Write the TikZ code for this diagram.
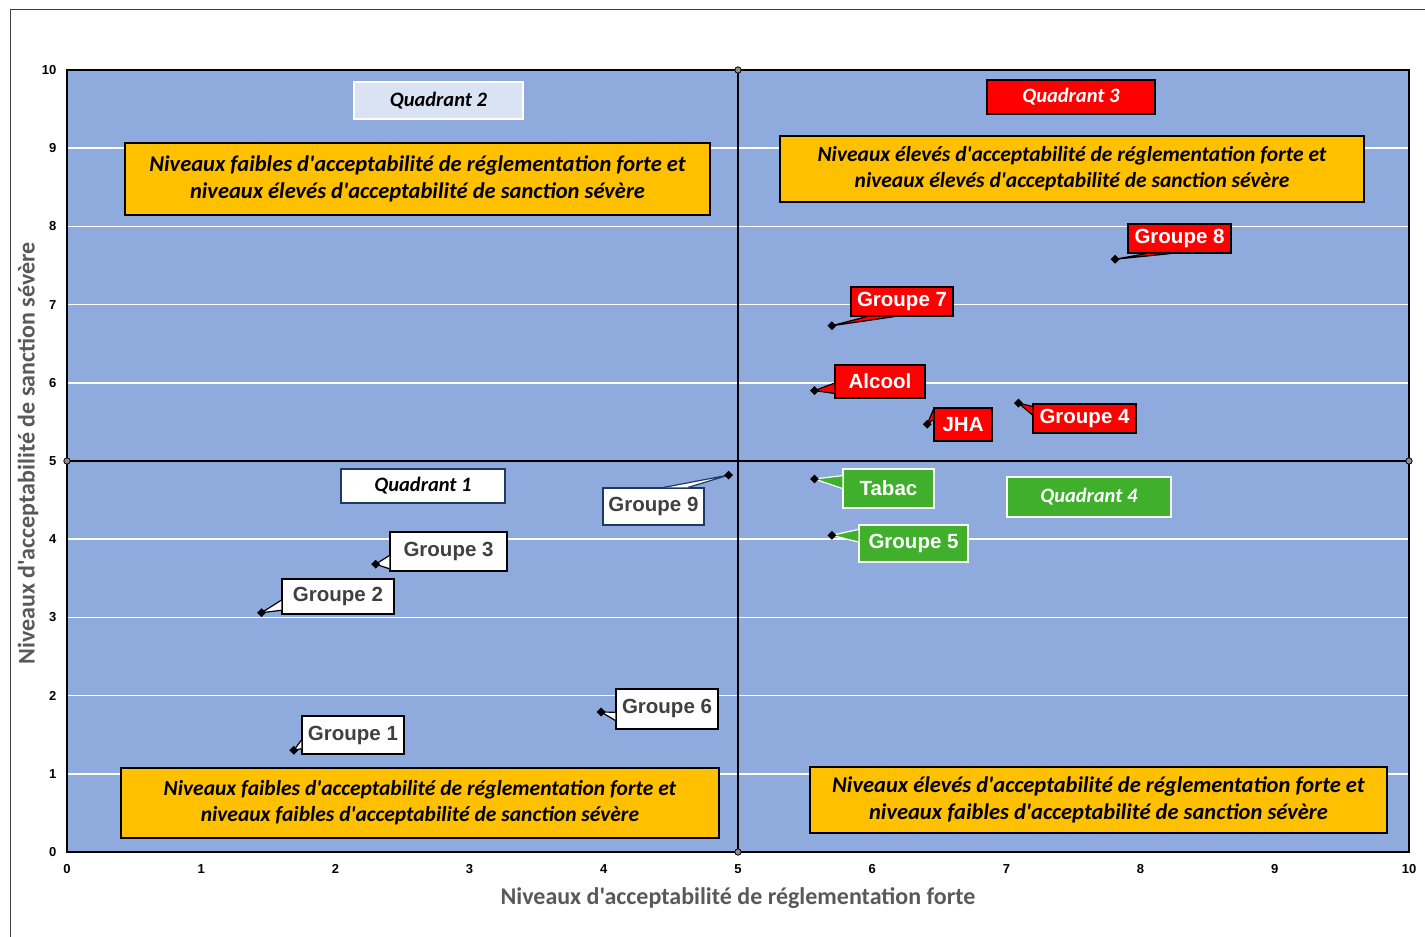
\documentclass[tikz,border=0pt]{standalone}
\usepackage{fontspec}
\setmainfont{Carlito}[Ligatures=TeXOff]
\newfontfamily\arialf{Liberation Sans}
\usepackage{tikz}
\usetikzlibrary{shapes.geometric,calc}

\definecolor{plotbg}{HTML}{8FAADC}
\definecolor{quadyellow}{HTML}{FFC000}
\definecolor{markred}{HTML}{FF0000}
\definecolor{markgreen}{HTML}{3FAF2C}
\definecolor{palebox}{HTML}{DAE3F3}
\definecolor{navy}{HTML}{1F3864}
\definecolor{grptext}{HTML}{404040}
\definecolor{titlegray}{HTML}{595959}

\tikzset{
  sz/.style 2 args={minimum width=#1pt, minimum height=#2pt},
  yellowbox/.style={draw=black, fill=quadyellow, line width=1.2pt, align=center, inner sep=0pt,
    font=\fontsize{22.5}{27}\selectfont\bfseries\itshape},
  quadbox/.style={line width=1.2pt, inner sep=0pt, font=\fontsize{20.5}{24}\selectfont\bfseries\itshape},
  grpbox/.style={draw=black, fill=white, text=grptext, line width=1.2pt, inner sep=0pt,
    font=\arialf\fontsize{20.5}{24}\selectfont\bfseries},
  redbox/.style={grpbox, fill=markred, text=white},
  greenbox/.style={grpbox, fill=markgreen, draw=white, text=white},
  mk/.style={diamond, fill=black, inner sep=0pt, minimum size=9pt},
  tick/.style={font=\arialf\fontsize{13}{15}\selectfont\bfseries, inner sep=1pt},
  axtitle/.style={text=titlegray, font=\fontsize{24}{28}\selectfont\bfseries},
}

% wedge of a callout: fill, border, edge start, edge end, f1, f2, point
\newcommand{\callout}[7]{%
  \fill[#1] ($(#3)!#5!(#4)$) -- (#7) -- ($(#3)!#6!(#4)$) -- cycle;
  \draw[#2, line width=1.2pt, line join=round] ($(#3)!#5!(#4)$) -- (#7) -- ($(#3)!#6!(#4)$);
}

\begin{document}
\begin{tikzpicture}
    \useasboundingbox (0pt,0pt) rectangle (1425pt,937pt);
    \draw[line width=1pt, black!75] (10pt,0pt) -- (10pt,927pt) -- (1425pt,927pt); % frame

\begin{scope}[x=134.2pt, y=78.2pt, shift={(67pt,85pt)}]
    \coordinate (P1) at (1.69, 1.30);
    \coordinate (P2) at (1.45, 3.06);
    \coordinate (P3) at (2.30, 3.68);
    \coordinate (P4) at (7.09, 5.74);
    \coordinate (P5) at (5.70, 4.05);
    \coordinate (P6) at (3.98, 1.79);
    \coordinate (P7) at (5.70, 6.73);
    \coordinate (P8) at (7.81, 7.58);
    \coordinate (P9) at (4.93, 4.82);
    \coordinate (PA) at (5.57, 5.90);
    \coordinate (PJ) at (6.41, 5.47);
    \coordinate (PT) at (5.57, 4.77);

    \fill[plotbg] (0,0) rectangle (10,10);
    \foreach \y in {1,2,3,4,6,7,8,9}
        \draw[white, line width=1.5pt] (0,\y) -- (10,\y);
    \draw[line width=2pt] (0,0) rectangle (10,10);
    \draw[line width=1.5pt] (5,0) -- (5,10); % vertical split
    \draw[line width=1.5pt] (0,5) -- (10,5); % horizontal split
    \foreach \c in {(5,0),(5,10),(0,5),(10,5)}
        \draw[fill=black!45, line width=0.8pt] \c circle (3.2pt);

    \foreach \v in {0,...,10} {
        \node[tick, anchor=east] (yt\v) at (-0.07,\v) {\v};
        \node[tick] (xt\v) at (\v,-0.22) {\v};
    }
    \node[axtitle] (xtitle) at (5,-0.59) {Niveaux d'acceptabilité de réglementation forte};
    \node[axtitle, rotate=90] (ytitle) at (-0.29,5.10) {Niveaux d'acceptabilité de sanction sévère};

    % quadrant texts
    \node[yellowbox, sz={585}{72}] (TL) at (2.612,8.606)
        {Niveaux faibles d'acceptabilité de réglementation forte et\\niveaux élevés d'acceptabilité de sanction sévère};
    \node[yellowbox, sz={584}{66}, font=\fontsize{21.5}{26}\selectfont\bfseries\itshape] (TR) at (7.489,8.734)
        {Niveaux élevés d'acceptabilité de réglementation forte et\\niveaux élevés d'acceptabilité de sanction sévère};
    \node[yellowbox, sz={598}{70}, font=\fontsize{21.5}{26}\selectfont\bfseries\itshape] (BL) at (2.630,0.627)
        {Niveaux faibles d'acceptabilité de réglementation forte et\\niveaux faibles d'acceptabilité de sanction sévère};
    \node[yellowbox, sz={577}{66}] (BR) at (7.686,0.665)
        {Niveaux élevés d'acceptabilité de réglementation forte et\\niveaux faibles d'acceptabilité de sanction sévère};

    \node[quadbox, sz={164}{34}, draw=navy, fill=white] (Q1) at (2.653,4.680) {Quadrant 1};
    \node[quadbox, sz={169}{37}, draw=white, fill=palebox] (Q2) at (2.768,9.610) {Quadrant 2};
    \node[quadbox, sz={168}{34}, draw=black, fill=markred, text=white] (Q3) at (7.481,9.655) {Quadrant 3};
    \node[quadbox, sz={164}{40}, draw=white, fill=markgreen, text=white] (Q4) at (7.615,4.540) {Quadrant 4};

    % labels
    \node[grpbox, sz={102}{38}] (G1) at (2.131,1.496) {Groupe 1};
    \node[grpbox, sz={112}{35}] (G2) at (2.019,3.267) {Groupe 2};
    \node[grpbox, sz={117}{39}] (G3) at (2.843,3.843) {Groupe 3};
    \node[redbox, sz={103}{29}] (G4) at (7.582,5.543) {Groupe 4};
    \node[greenbox, sz={109}{37}] (G5) at (6.308,3.944) {Groupe 5};
    \node[grpbox, sz={102}{40}] (G6) at (4.471,1.829) {Groupe 6};
    \node[redbox, sz={102}{29}] (G7) at (6.222,7.040) {Groupe 7};
    \node[redbox, sz={103}{29}] (G8) at (8.290,7.845) {Groupe 8};
    \node[grpbox, sz={101}{37}, draw=navy] (G9) at (4.370,4.418) {Groupe 9};
    \node[redbox, sz={90}{33}] (GA) at (6.058,6.017) {Alcool};
    \node[redbox, sz={58}{33}] (GJ) at (6.677,5.467) {JHA};
    \node[greenbox, sz={91}{39}] (GT) at (6.121,4.648) {Tabac};

    \callout{white}{black}{G1.north west}{G1.south west}{0.63}{0.85}{P1}
    \callout{white}{black}{G2.north west}{G2.south west}{0.60}{0.88}{P2}
    \callout{white}{black}{G3.north west}{G3.south west}{0.60}{0.93}{P3}
    \callout{markred}{black}{G4.north west}{G4.south west}{0.10}{0.38}{P4}
    \callout{markgreen}{white}{G5.north west}{G5.south west}{0.13}{0.46}{P5}
    \callout{white}{black}{G6.north west}{G6.south west}{0.58}{0.78}{P6}
    \callout{markred}{black}{G7.south west}{G7.south east}{0.16}{0.43}{P7}
    \callout{markred}{black}{G8.south west}{G8.south east}{0.18}{0.41}{P8}
    \callout{white}{navy}{G9.north west}{G9.north east}{0.60}{0.84}{P9}
    \callout{markred}{black}{GA.north west}{GA.south west}{0.55}{0.85}{PA}
    \callout{markred}{black}{GJ.north west}{GJ.south west}{0.06}{0.36}{PJ}
    \callout{markgreen}{white}{GT.north west}{GT.south west}{0.18}{0.50}{PT}

    \foreach \p in {1,...,9,A,J,T}
        \node[mk] (M\p) at (P\p) {};
\end{scope}
\end{tikzpicture}
\end{document}
